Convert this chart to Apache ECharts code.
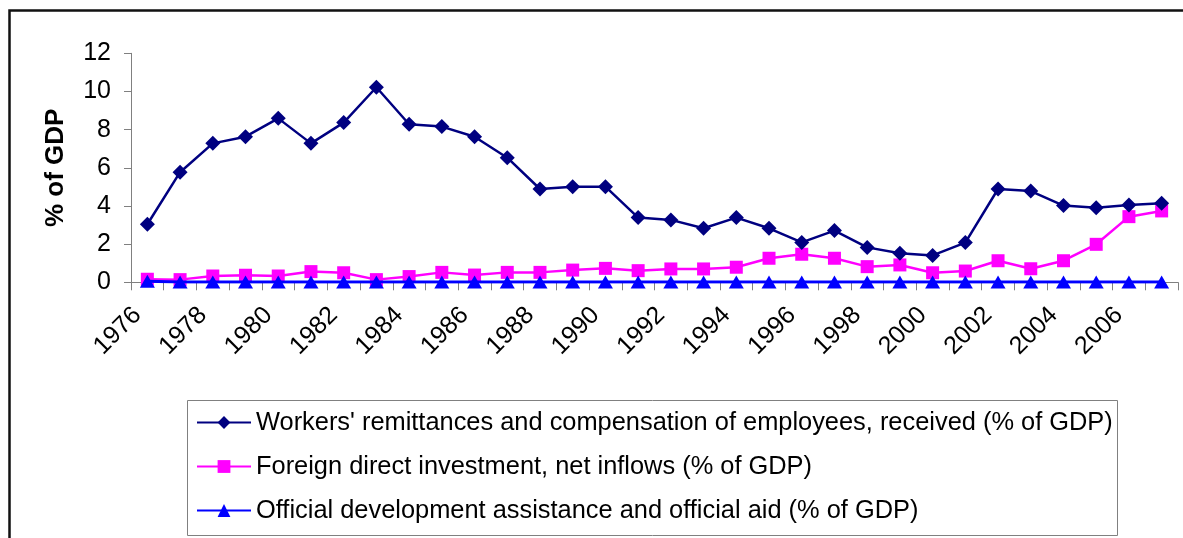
<!DOCTYPE html>
<html>
<head>
<meta charset="utf-8">
<script src="https://cdn.jsdelivr.net/npm/echarts@6/dist/echarts.min.js"></script>
<style>
html,body{margin:0;padding:0;background:#fff;}
#chart{width:1183px;height:538px;}
</style>
</head>
<body>
<div id="chart"></div>
<script>
const years = ['1976','1977','1978','1979','1980','1981','1982','1983','1984','1985','1986','1987','1988','1989','1990','1991','1992','1993','1994','1995','1996','1997','1998','1999','2000','2001','2002','2003','2004','2005','2006','2007'];
const workers = [3.04,5.77,7.28,7.63,8.59,7.28,8.37,10.22,8.28,8.16,7.63,6.53,4.89,5.01,5.01,3.39,3.27,2.83,3.39,2.83,2.09,2.71,1.83,1.52,1.41,2.08,4.89,4.78,4.02,3.91,4.05,4.14];
const fdi = [0.16,0.14,0.33,0.37,0.33,0.56,0.50,0.14,0.30,0.52,0.38,0.52,0.52,0.64,0.73,0.61,0.70,0.70,0.79,1.26,1.47,1.26,0.82,0.91,0.50,0.59,1.13,0.71,1.13,1.99,3.44,3.74];
const oda = [0.06,0.01,0.01,0.01,0.01,0.01,0.01,0.01,0.01,0.01,0.01,0.01,0.01,0.01,0.01,0.01,0.01,0.01,0.01,0.01,0.01,0.01,0.01,0.01,0.01,0.01,0.01,0.01,0.01,0.01,0.01,0.01];
const seriesNames = [
  "Workers' remittances and compensation of employees, received (% of GDP)",
  "Foreign direct investment, net inflows (% of GDP)",
  "Official development assistance and official aid (% of GDP)"
];
const yTitle = '% of GDP';

const FONT = '"Liberation Sans", Arial, sans-serif';
const chart = echarts.init(document.getElementById('chart'), null, {renderer: 'canvas'});
chart.setOption({
  animation: false,
  backgroundColor: '#fff',
  textStyle: {fontFamily: FONT},
  graphic: [
    {type: 'rect', shape: {x: 9.5, y: 10.5, width: 1200, height: 560}, style: {fill: 'none', stroke: '#111', lineWidth: 2.5}, silent: true, z: -1},
    {type: 'rect', shape: {x: 187.5, y: 400.5, width: 930, height: 135}, style: {fill: '#fff', stroke: '#808080', lineWidth: 1}, silent: true, z: 0}
  ],
  grid: {left: 131, right: 5, top: 53.3, bottom: 255.7, containLabel: false},
  legend: {
    orient: 'vertical', left: 196, top: 410, itemWidth: 54, itemHeight: 16, itemGap: 19,
    padding: 0, zlevel: 1,
    textStyle: {fontSize: 25.4, fontFamily: FONT, color: '#000', lineHeight: 24},
    data: seriesNames
  },
  xAxis: {
    type: 'category', data: years, boundaryGap: true,
    axisLine: {lineStyle: {color: '#808080', width: 1}},
    axisTick: {show: true, interval: 0, length: 8, lineStyle: {color: '#808080'}},
    axisLabel: {interval: 1, rotate: 45, fontSize: 25, fontFamily: FONT, color: '#000', margin: 19, padding: [0, 14, 0, 0]},
    splitLine: {show: false}
  },
  yAxis: {
    type: 'value', min: 0, max: 12, interval: 2,
    name: yTitle, nameLocation: 'middle', nameGap: 62, nameRotate: 90,
    nameTextStyle: {fontSize: 26, fontWeight: 'bold', fontFamily: FONT, color: '#000'},
    axisLine: {show: true, lineStyle: {color: '#808080', width: 1}},
    axisTick: {show: true, length: 7, lineStyle: {color: '#808080'}},
    axisLabel: {fontSize: 25, fontFamily: FONT, color: '#000', margin: 20},
    splitLine: {show: false}
  },
  series: [
    {name: seriesNames[0], type: 'line', data: workers, symbol: 'diamond', symbolSize: 15,
     itemStyle: {color: '#000080'}, lineStyle: {color: '#000080', width: 2.5}, z: 4},
    {name: seriesNames[1], type: 'line', data: fdi, symbol: 'rect', symbolSize: 13,
     itemStyle: {color: '#FF00FF'}, lineStyle: {color: '#FF00FF', width: 2.5}, z: 3},
    {name: seriesNames[2], type: 'line', data: oda, symbol: 'triangle', symbolSize: [15, 13],
     itemStyle: {color: '#0000FF'}, lineStyle: {color: '#0000FF', width: 3}, z: 5}
  ]
});
</script>
</body>
</html>
